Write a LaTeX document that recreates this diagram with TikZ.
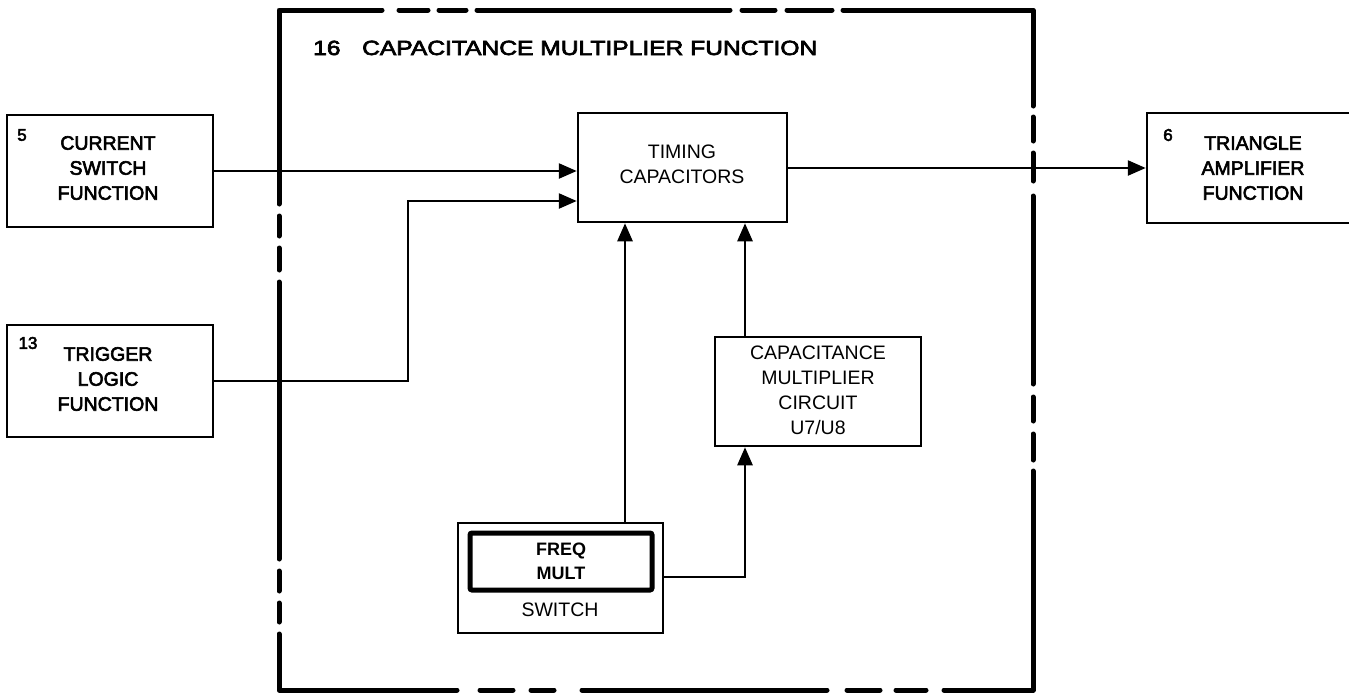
\documentclass[tikz,border=0pt]{standalone}
\usepackage{fontspec}
\setmainfont{Liberation Sans}
\newfontfamily\medf{Liberation Sans}[FakeBold=3]
\usetikzlibrary{arrows.meta}
\begin{document}
\begin{tikzpicture}[x=1pt,y=-1pt,
  box/.style={draw, line width=2.5pt, inner sep=0pt, rectangle},
  arr/.style={line width=2.5pt, -{Triangle[length=18pt,width=15pt]}},
  frame/.style={line width=5pt, line cap=round, line join=round},
  med/.style={font=\medf\fontsize{19.5}{25}\selectfont, align=center, inner sep=0pt},
  light/.style={font=\fontsize{19.5}{25}\selectfont, align=center, inner sep=0pt},
  num/.style={font=\medf\fontsize{17}{20}\selectfont, inner sep=0pt}]
\clip (0,0) rectangle (1349,694);
\fill[white] (0,0) rectangle (1349,694);

% outer dashed frame
\draw[frame] (279,204) -- (279,10) -- (382,10);
\draw[frame] (399,10)--(428,10);
\draw[frame] (439,10)--(466,10);
\draw[frame] (477,10)--(730,10);
\draw[frame] (742,10)--(775,10);
\draw[frame] (787,10)--(832,10);
\draw[frame] (843,10)--(1033,10)--(1033,106);
\draw[frame] (1033,117)--(1033,141);
\draw[frame] (1033,153)--(1033,181);
\draw[frame] (1033,196)--(1033,384);
\draw[frame] (1033,397)--(1033,421);
\draw[frame] (1033,434)--(1033,460);
\draw[frame] (1033,471)--(1033,690)--(944,690);
\draw[frame] (926,690)--(896,690);
\draw[frame] (880,690)--(847,690);
\draw[frame] (827,690)--(582,690);
\draw[frame] (554,690)--(531,690);
\draw[frame] (513,690)--(480,690);
\draw[frame] (457,690)--(279,690)--(279,634);
\draw[frame] (279,622)--(279,603);
\draw[frame] (279,591)--(279,571);
\draw[frame] (279,559)--(279,282);
\draw[frame] (279,270)--(279,248);
\draw[frame] (279,236)--(279,216);

\node[anchor=base west, inner sep=0pt, font=\medf\fontsize{20.5}{26}\selectfont] (title) at (313,55)
  {\scalebox{1.2}[1]{16\hspace{18pt}CAPACITANCE MULTIPLIER FUNCTION}};

% boxes
\node[box, minimum width=206pt, minimum height=112pt] (cur) at (110,171) {};
\node[med] (curt) at (108,168) {CURRENT\\SWITCH\\FUNCTION};
\node[num] (n5) at (22,135) {5};

\node[box, minimum width=206pt, minimum height=112pt] (trig) at (110,381) {};
\node[med] (trigt) at (108,379) {TRIGGER\\LOGIC\\FUNCTION};
\node[num] (n13) at (28,343) {13};

\node[box, minimum width=209pt, minimum height=109pt] (tc) at (682.5,167.5) {};
\node[light] (tct) at (682,164) {TIMING\\CAPACITORS};

\node[box, minimum width=206pt, minimum height=110pt] (tri) at (1250,168) {};
\node[med] (trit) at (1253,168) {TRIANGLE\\AMPLIFIER\\FUNCTION};
\node[num] (n6) at (1168,135) {6};

\node[box, minimum width=206pt, minimum height=109pt] (cm) at (818,391.5) {};
\node[light] (cmt) at (818,390) {CAPACITANCE\\MULTIPLIER\\CIRCUIT\\U7/U8};

\node[box, minimum width=205pt, minimum height=110pt] (sw) at (560.5,578) {};
\node[draw, line width=5pt, inner sep=0pt, minimum width=182pt, minimum height=57pt, rounded corners=2pt] (fm) at (561,561.5) {};
\node[font=\bfseries\fontsize{18}{24}\selectfont, align=center, inner sep=0pt] (fmt) at (561,561) {FREQ\\MULT};
\node[light] (swt) at (560,610) {SWITCH};

% connector helper coordinates
\coordinate (bend) at (408,0);
\coordinate (in2) at (0,201);
\coordinate (out) at (0,168);
\coordinate (c1) at (625,0);
\coordinate (c2) at (745,0);
\coordinate (s3) at (0,577);

% connectors
\draw[arr] (cur.east) -- (cur.east -| tc.west);
\draw[arr] (trig.east) -- (trig.east -| bend) -- (bend |- in2) -- (tc.west |- in2);
\draw[arr] (tc.east |- out) -- (tri.west |- out);
\draw[arr] (sw.north -| c1) -- (tc.south -| c1);
\draw[arr] (cm.north -| c2) -- (tc.south -| c2);
\draw[arr] (sw.east |- s3) -- (c2 |- s3) -- (cm.south -| c2);
\end{tikzpicture}
\end{document}
